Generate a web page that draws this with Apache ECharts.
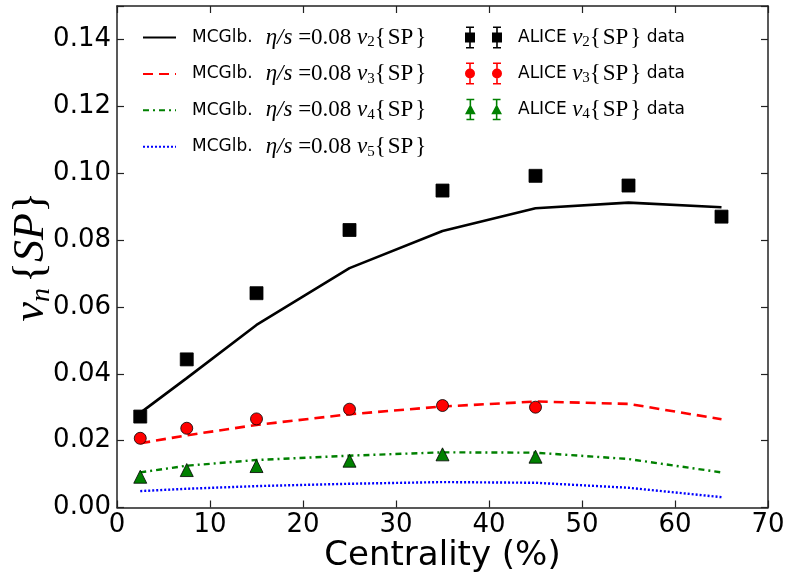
<!DOCTYPE html>
<html>
<head>
<meta charset="utf-8">
<script src="https://cdn.jsdelivr.net/npm/echarts@6/dist/echarts.min.js"></script>
<style>
  html, body { margin: 0; padding: 0; background: #fff; }
  #chart { width: 788px; height: 580px; }
</style>
</head>
<body>
<div id="chart"></div>
<script>
// Centrality bin centres (%)
const centrality = [2.5, 7.5, 15, 25, 35, 45, 55, 65];

// MC-Glauber hydro, eta/s = 0.08, scalar-product flow coefficients
const modelV2 = [0.0283, 0.0387, 0.0546, 0.0716, 0.0827, 0.0895, 0.0912, 0.0898];
const modelV3 = [0.0192, 0.0216, 0.0247, 0.0279, 0.0302, 0.0317, 0.0310, 0.0264];
const modelV4 = [0.0105, 0.0125, 0.0142, 0.0155, 0.0165, 0.0164, 0.0145, 0.0105];
const modelV5 = [0.0049, 0.0056, 0.0064, 0.0071, 0.0076, 0.0074, 0.0059, 0.0031];

// ALICE measurements
const aliceCentV2 = [2.5, 7.5, 15, 25, 35, 45, 55, 65];
const aliceV2 = [0.0272, 0.0443, 0.0641, 0.0830, 0.0948, 0.0992, 0.0963, 0.0870];
const aliceCentV3 = [2.5, 7.5, 15, 25, 35, 45];
const aliceV3 = [0.0207, 0.0237, 0.0265, 0.0294, 0.0305, 0.0300];
const aliceCentV4 = [2.5, 7.5, 15, 25, 35, 45];
const aliceV4 = [0.0092, 0.0112, 0.0124, 0.0140, 0.0159, 0.0152];

// Axis ranges and tick steps
const xRange = [0, 70], xStep = 10;
const yRange = [0, 0.15], yStep = 0.02;

const pair = (xs, ys) => xs.map((x, i) => [x, ys[i]]);

const SANS = 'DejaVu Sans';
const SERIF = 'Liberation Serif';

// Legend glyphs: two markers, each with an error bar and caps
function errIcon(kind) {
  const centres = [5, 32];
  let d = '';
  const rect = (x0, y0, x1, y1) => `M${x0} ${y0} L${x1} ${y0} L${x1} ${y1} L${x0} ${y1} Z `;
  centres.forEach(c => {
    d += rect(c - 4, 0, c + 4, 1.6);
    d += rect(c - 0.8, 0, c + 0.8, 22);
    d += rect(c - 4, 20.4, c + 4, 22);
    if (kind === 'rect') d += rect(c - 5, 6, c + 5, 16);
    if (kind === 'circle') d += `M${c - 5} 11 A5 5 0 1 1 ${c + 5} 11 A5 5 0 1 1 ${c - 5} 11 Z `;
    if (kind === 'triangle') d += `M${c} 5.5 L${c + 5.5} 16 L${c - 5.5} 16 Z `;
  });
  d += rect(0, 21.9, 0.01, 22) + rect(37, 21.9, 37.01, 22);
  return 'path://' + d;
}

const HAIR = '\u200A';
// "{SP}" in rich text: the opening brace sits inside the token, the closing
// brace follows as plain text (token content cannot contain "}")
const SP = `{r|{${HAIR}SP${HAIR}}` + '}';

// Legend label: "MCGlb. η/s =0.08 v_n{SP}"
function modelLabel(n) {
  return `{t|MCGlb.}{m|η/s}{r| =0.08 }{m|v}{s|${n}}` + SP;
}
function dataLabel(n) {
  return `{t|ALICE }{m|v}{s|${n}}` + SP + '{t2| data}';
}

const legendRich = {
  t: { fontFamily: SANS, fontSize: 17, color: '#000', lineHeight: 22, padding: [0, 13, 0, 11] },
  t2: { fontFamily: SANS, fontSize: 17, color: '#000', lineHeight: 22 },
  m: { fontFamily: SERIF, fontStyle: 'italic', fontSize: 23, color: '#000', lineHeight: 22 },
  r: { fontFamily: SERIF, fontSize: 23, color: '#000', lineHeight: 22 },
  s: { fontFamily: SERIF, fontSize: 15, color: '#000', lineHeight: 12, padding: [10, 0, 0, 0] }
};

const modelNames = ['m2', 'm3', 'm4', 'm5'];

const frameLine = { show: true, onZero: false, lineStyle: { color: '#222', width: 1.5 } };
const tickIn = { show: true, inside: true, length: 7, lineStyle: { color: '#222', width: 1.2 } };

const option = {
  animation: false,
  backgroundColor: '#fff',
  grid: { left: 117, right: 20, top: 6, bottom: 72.5, containLabel: false, outerBoundsMode: 'none' },
  xAxis: [
    {
      type: 'value', min: xRange[0], max: xRange[1], interval: xStep, position: 'bottom',
      axisLine: frameLine, axisTick: tickIn, splitLine: { show: false },
      axisLabel: { fontFamily: SANS, fontSize: 26, color: '#000', margin: 5 },
      name: 'Centrality (%)', nameLocation: 'middle', nameGap: 32, nameMoveOverlap: false,
      nameTextStyle: { fontFamily: SANS, fontSize: 34, color: '#000', verticalAlign: 'top' }
    },
    {
      type: 'value', min: xRange[0], max: xRange[1], interval: xStep, position: 'top',
      axisLine: frameLine, axisTick: tickIn, splitLine: { show: false }, axisLabel: { show: false }
    }
  ],
  yAxis: [
    {
      type: 'value', min: yRange[0], max: yRange[1], interval: yStep, position: 'left',
      axisLine: frameLine, axisTick: tickIn, splitLine: { show: false },
      axisLabel: {
        fontFamily: SANS, fontSize: 26, color: '#000', margin: 6,
        formatter: v => (v > 0.145 ? '' : v.toFixed(2))
      },
      name: '{v|v}{s|n}{b|{}{i|SP}' + '}',
      nameLocation: 'middle', nameGap: 62, nameRotate: 90, nameMoveOverlap: false,
      nameTextStyle: {
        fontFamily: SERIF, fontSize: 44, color: '#000',
        rich: {
          v: { fontFamily: SERIF, fontStyle: 'italic', fontSize: 44, color: '#000', lineHeight: 48 },
          s: { fontFamily: SERIF, fontStyle: 'italic', fontSize: 28, color: '#000', lineHeight: 26, padding: [22, 0, 0, 0] },
          b: { fontFamily: SERIF, fontSize: 44, color: '#000', lineHeight: 48, padding: [0, 0, 0, 5] },
          i: { fontFamily: SERIF, fontStyle: 'italic', fontSize: 44, color: '#000', lineHeight: 48 }
        }
      }
    },
    {
      type: 'value', min: yRange[0], max: yRange[1], interval: yStep, position: 'right',
      axisLine: frameLine, axisTick: tickIn, splitLine: { show: false }, axisLabel: { show: false }
    }
  ],
  legend: [
    {
      orient: 'vertical', left: 137, top: 20, itemWidth: 33, itemHeight: 14, itemGap: 11.4,
      selectedMode: false,
      data: modelNames.map(n => ({ name: n, itemStyle: { opacity: 0 } })),
      formatter: name => modelLabel(name.slice(1)),
      textStyle: { fontFamily: SERIF, fontSize: 23, color: '#000', rich: legendRich }
    },
    {
      orient: 'vertical', left: 460, top: 20, itemWidth: 37, itemHeight: 22, itemGap: 11,
      selectedMode: false,
      data: [
        { name: 'd2', icon: errIcon('rect'), itemStyle: { borderWidth: 0 } },
        { name: 'd3', icon: errIcon('circle'), itemStyle: { borderWidth: 0 } },
        { name: 'd4', icon: errIcon('triangle'), itemStyle: { borderWidth: 0 } }
      ],
      formatter: name => dataLabel(name.slice(1)),
      textStyle: { fontFamily: SERIF, fontSize: 23, color: '#000', rich: Object.assign({}, legendRich, {
        t: Object.assign({}, legendRich.t, { padding: [0, 0, 0, 11] })
      }) }
    }
  ],
  series: [
    {
      name: 'm2', type: 'line', data: pair(centrality, modelV2), symbol: 'none',
      lineStyle: { color: '#000', width: 2.6, type: 'solid' }, itemStyle: { color: '#000' }, z: 2
    },
    {
      name: 'm3', type: 'line', data: pair(centrality, modelV3), symbol: 'none',
      lineStyle: { color: '#ff0000', width: 2.6, type: [10, 6] }, itemStyle: { color: '#ff0000' }, z: 2
    },
    {
      name: 'm4', type: 'line', data: pair(centrality, modelV4), symbol: 'none',
      lineStyle: { color: '#008000', width: 2.4, type: [6, 4, 2, 4] }, itemStyle: { color: '#008000' }, z: 2
    },
    {
      name: 'm5', type: 'line', data: pair(centrality, modelV5), symbol: 'none',
      lineStyle: { color: '#0000ff', width: 2.4, type: [2, 2] }, itemStyle: { color: '#0000ff' }, z: 2
    },
    {
      name: 'd2', type: 'scatter', data: pair(aliceCentV2, aliceV2), symbol: 'rect', symbolSize: 13,
      itemStyle: { color: '#000', borderColor: '#000', borderWidth: 0.8, opacity: 1 }, z: 3
    },
    {
      name: 'd3', type: 'scatter', data: pair(aliceCentV3, aliceV3), symbol: 'circle', symbolSize: 12,
      itemStyle: { color: '#ff0000', borderColor: '#000', borderWidth: 0.8, opacity: 1 }, z: 3
    },
    {
      name: 'd4', type: 'scatter', data: pair(aliceCentV4, aliceV4), symbol: 'triangle', symbolSize: 13,
      itemStyle: { color: '#008000', borderColor: '#000', borderWidth: 0.8, opacity: 1 }, z: 3
    }
  ]
};

const chart = echarts.init(document.getElementById('chart'), null, { renderer: 'canvas' });
chart.setOption(option);
</script>
</body>
</html>
